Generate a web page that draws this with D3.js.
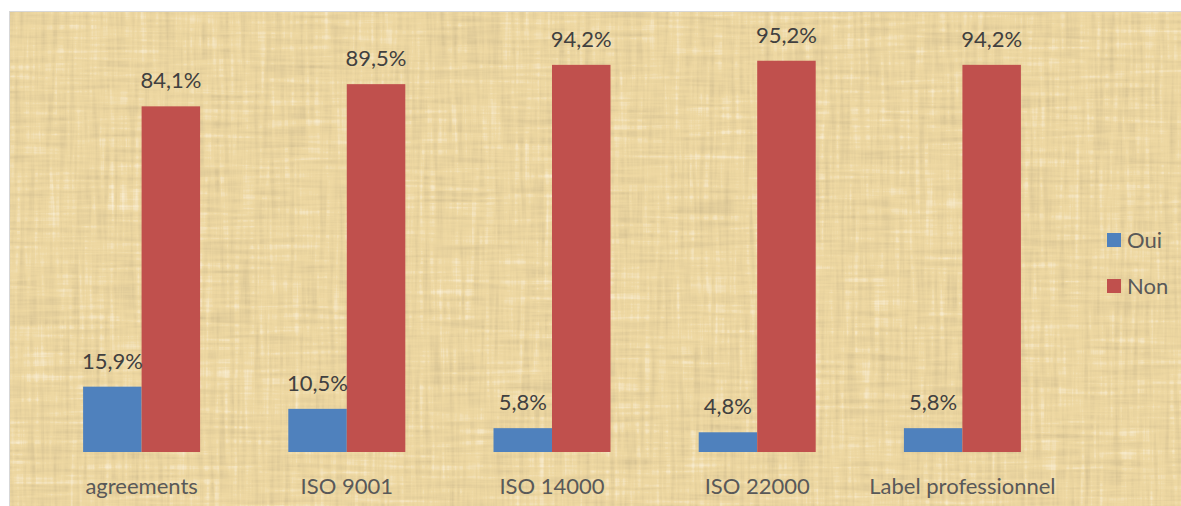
<!DOCTYPE html>
<html>
<head>
<meta charset="utf-8">
<script src="https://cdn.jsdelivr.net/npm/d3@7"></script>
<style>
  body { margin: 0; background: #fff; }
  svg { display: block; font-family: Lato, "Open Sans", sans-serif; }
</style>
</head>
<body>
<svg id="chart" width="1181" height="506"></svg>
<script>
var categories = ['agreements', 'ISO 9001', 'ISO 14000', 'ISO 22000', 'Label professionnel']
var series = ['Oui', 'Non']
var oui = [15.9, 10.5, 5.8, 4.8, 5.8]
var non = [84.1, 89.5, 94.2, 95.2, 94.2]
var colors = ['#4f81bd', '#c0504d']

var W = 1181, H = 506
var FONT = 'Lato, "Open Sans", sans-serif'
var FS = 22
var svg = d3.select('#chart')

// papyrus-ish background: streaky noise on a tan base
var defs = svg.append('defs')
var f = defs.append('filter').attr('id', 'papyrus')
  .attr('x', 0).attr('y', 0).attr('width', '100%').attr('height', '100%')
f.append('feTurbulence').attr('type', 'fractalNoise')
  .attr('baseFrequency', '0.2 0.012').attr('numOctaves', 3).attr('seed', 3).attr('result', 'v')
f.append('feTurbulence').attr('type', 'fractalNoise')
  .attr('baseFrequency', '0.012 0.2').attr('numOctaves', 3).attr('seed', 7).attr('result', 'h')
f.append('feComposite').attr('in', 'v').attr('in2', 'h')
  .attr('operator', 'arithmetic').attr('k2', 0.5).attr('k3', 0.5).attr('result', 'n')
f.append('feColorMatrix').attr('in', 'n').attr('type', 'matrix')
  .attr('values', '0 0 0 0 0.65  0 0 0 0 0.52  0 0 0 0 0.28  2.4 0 0 0 -1.1')
  .attr('result', 'dark')
f.append('feColorMatrix').attr('in', 'n').attr('type', 'matrix')
  .attr('values', '0 0 0 0 0.99  0 0 0 0 0.93  0 0 0 0 0.78  -2.4 0 0 0 1.05')
  .attr('result', 'light')
f.append('feMerge').call(function (m) {
  m.append('feMergeNode').attr('in', 'SourceGraphic')
  m.append('feMergeNode').attr('in', 'dark')
  m.append('feMergeNode').attr('in', 'light')
})

svg.append('rect').attr('x', 9).attr('y', 11).attr('width', W - 9).attr('height', H - 11)
  .attr('fill', '#d7d7d7')
svg.append('rect').attr('x', 10).attr('y', 12).attr('width', W - 10).attr('height', H - 12)
  .attr('fill', '#eed8a2').attr('filter', 'url(#papyrus)')

var x = d3.scaleBand().domain(categories).range([39, 1065])
var xs = d3.scaleBand().domain(series).range([0, 117])
var y = d3.scaleLinear().domain([0, 100]).range([452, 41])

var data = []
categories.forEach(function (c, i) {
  data.push({ cat: c, s: 'Oui', v: oui[i] })
  data.push({ cat: c, s: 'Non', v: non[i] })
})

function bx (d) { return x(d.cat) + (x.bandwidth() - 117) / 2 + xs(d.s) }

var g = svg.append('g')
g.selectAll('rect.bar')
  .data(data)
  .join('rect')
  .attr('class', 'bar')
  .attr('x', bx)
  .attr('y', function (d) { return y(d.v) })
  .attr('width', xs.bandwidth())
  .attr('height', function (d) { return y(0) - y(d.v) })
  .attr('fill', function (d) { return colors[series.indexOf(d.s)] })

g.selectAll('text.val')
  .data(data)
  .join('text')
  .attr('class', 'val')
  .attr('x', function (d) { return bx(d) + xs.bandwidth() / 2 })
  .attr('y', function (d) { return y(d.v) - 18 })
  .attr('text-anchor', 'middle')
  .attr('font-size', FS)
  .attr('fill', '#404040')
  .text(function (d) { return d.v.toFixed(1).replace('.', ',') + '%' })

var axis = d3.axisBottom(x).tickSize(0).tickPadding(0)
var ax = svg.append('g').attr('transform', 'translate(0,494)').call(axis)
ax.select('.domain').remove()
ax.selectAll('text').attr('font-size', FS).attr('fill', '#595959')
  .attr('font-family', FONT).attr('dy', 0)

var leg = svg.append('g').attr('transform', 'translate(1107,233)')
series.forEach(function (s, i) {
  var row = leg.append('g').attr('transform', 'translate(0,' + (i * 46) + ')')
  row.append('rect').attr('width', 14).attr('height', 14).attr('fill', colors[i])
  row.append('text').attr('x', 20).attr('y', 7).attr('dy', '0.36em')
    .attr('font-size', FS).attr('fill', '#595959').text(s)
})
</script>
</body>
</html>
